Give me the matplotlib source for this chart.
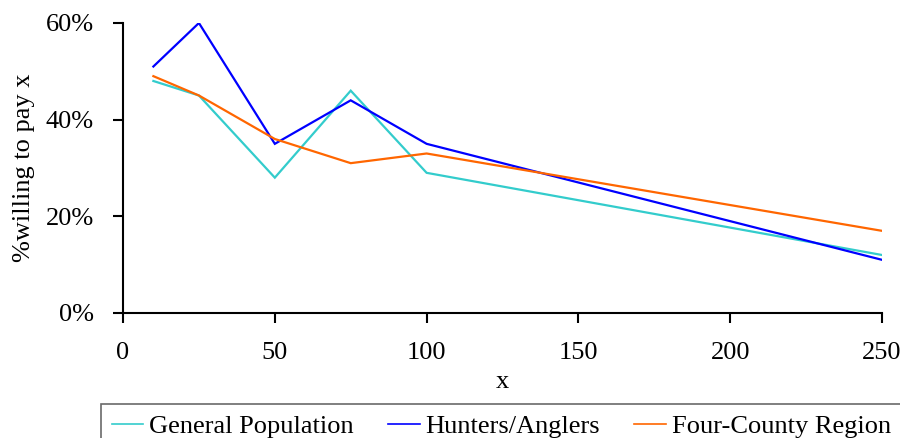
import matplotlib
matplotlib.use("Agg")
import matplotlib.pyplot as plt
from matplotlib.ticker import PercentFormatter

x_values = [10, 25, 50, 75, 100, 250]
general_population = [48, 45, 28, 46, 29, 12]
hunters_anglers = [51, 60, 35, 44, 35, 11]
four_county = [49, 45, 36, 31, 33, 17]
series_names = ["General Population", "Hunters/Anglers", "Four-County Region"]
x_ticks = [0, 50, 100, 150, 200, 250]
y_ticks = [0, 20, 40, 60]

plt.rcParams["font.family"] = ["Liberation Serif", "DejaVu Serif"]

fig = plt.figure(figsize=(9, 4.38), dpi=100)
ax = fig.add_axes([0.1367, 0.2854, 0.8433, 0.6621])

colors = ["#33CCCC", "#0000FF", "#FF6600"]
for vals, name, c in zip([general_population, hunters_anglers, four_county], series_names, colors):
    ax.plot(x_values, vals, color=c, lw=1.6, label=name, solid_joinstyle="miter")

ax.set_xlim(0, 250)
ax.set_ylim(0, 60)
ax.set_xticks(x_ticks)
ax.set_yticks(y_ticks)
ax.yaxis.set_major_formatter(PercentFormatter(decimals=0))
for s in ["top", "right"]:
    ax.spines[s].set_visible(False)
for s in ["left", "bottom"]:
    ax.spines[s].set_linewidth(1.5)
    ax.spines[s].set_color("black")
    ax.spines[s].set_clip_on(False)
ax.tick_params(axis="both", direction="out", width=1.5, labelsize=19, colors="black")
ax.tick_params(axis="y", length=7, pad=14)
ax.tick_params(axis="x", length=7, pad=14)
ax.set_xlabel("x", fontsize=19, labelpad=5)
ax.set_ylabel("%willing to pay x", fontsize=19, labelpad=8)

leg = fig.legend(loc="upper left", bbox_to_anchor=(101 / 900, 1 - 404 / 438), ncol=3,
                 fontsize=19, frameon=True, fancybox=False, borderaxespad=0,
                 handlelength=1.2, handletextpad=0.23, columnspacing=1.29,
                 borderpad=0.4)
leg.get_frame().set_edgecolor("#444444")
leg.get_frame().set_linewidth(1.2)
for h in leg.legend_handles:
    h.set_linewidth(1.2)

fig.savefig("out.png", dpi=100)
